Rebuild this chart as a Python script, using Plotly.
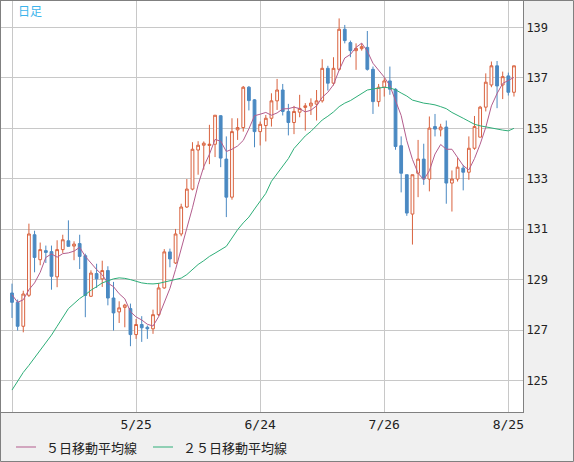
import pandas as pd
import plotly.graph_objects as go

# daily candles, weekdays 2022-04-25 .. 2022-08-26
dates = pd.bdate_range("2022-04-25", "2022-08-26").strftime("%Y-%m-%d").tolist()

open_ = [128.47, 128.10, 127.15, 128.38, 130.78, 129.79, 130.15, 130.11, 129.11, 130.19,
         130.54, 130.33, 130.43, 129.95, 128.34, 129.24, 129.03, 129.36, 128.27, 127.72,
         127.90, 127.85, 126.82, 127.22, 127.11, 127.05, 127.61, 128.67, 130.10, 129.66,
         130.81, 131.88, 132.59, 134.14, 134.33, 134.32, 134.37, 135.50, 133.78, 132.27,
         134.94, 135.03, 136.63, 136.13, 134.87, 135.11, 135.40, 136.09, 136.52, 135.67,
         135.23, 135.64, 135.83, 135.89, 135.96, 136.09, 137.38, 136.79, 137.34, 138.93,
         138.40, 138.08, 138.16, 138.21, 137.34, 136.06, 136.63, 136.88, 136.55, 134.31,
         133.16, 131.60, 133.22, 133.78, 132.99, 135.07, 134.94, 135.05, 132.83, 132.99,
         133.42, 133.26, 134.21, 134.65, 135.84, 136.72, 137.48, 136.72, 137.08, 136.43]

high = [128.84, 128.21, 128.56, 131.22, 130.94, 130.47, 130.35, 130.35, 130.56, 130.78,
        131.35, 130.52, 130.78, 130.03, 129.37, 129.63, 129.75, 129.53, 128.91, 128.14,
        128.04, 128.05, 127.44, 127.55, 127.18, 127.81, 128.87, 130.21, 130.23, 131.01,
        132.01, 132.99, 134.45, 134.49, 134.48, 135.14, 135.52, 135.52, 134.68, 135.40,
        135.40, 136.68, 136.68, 136.16, 135.27, 135.53, 136.39, 136.96, 136.76, 135.97,
        135.89, 136.33, 136.00, 136.19, 136.52, 137.74, 137.48, 137.82, 139.36, 139.10,
        138.48, 138.37, 138.37, 138.86, 137.45, 136.76, 136.99, 137.45, 136.59, 134.68,
        133.16, 133.16, 134.54, 134.39, 135.47, 135.57, 135.18, 135.31, 133.33, 133.82,
        133.55, 134.68, 135.49, 135.89, 137.18, 137.65, 137.67, 137.25, 137.21, 137.48]

low = [127.48, 126.98, 126.91, 128.31, 129.29, 129.57, 129.66, 128.60, 128.70, 130.06,
       130.32, 129.77, 129.42, 127.51, 128.31, 128.67, 128.71, 127.98, 126.98, 127.28,
       127.11, 126.36, 126.65, 126.53, 126.65, 126.85, 127.55, 128.64, 129.49, 129.62,
       130.72, 131.84, 132.54, 133.16, 133.36, 133.58, 133.86, 133.46, 131.48, 132.17,
       134.54, 134.87, 135.71, 134.25, 134.32, 134.48, 135.07, 135.73, 135.51, 134.72,
       134.77, 135.44, 134.91, 135.53, 135.31, 136.02, 136.50, 136.70, 137.29, 138.37,
       137.82, 137.32, 138.08, 137.29, 135.57, 135.86, 136.26, 136.33, 134.15, 132.46,
       131.53, 130.39, 132.27, 132.76, 132.50, 134.68, 134.68, 132.01, 131.70, 132.89,
       132.54, 132.96, 134.15, 134.65, 135.67, 136.63, 135.80, 136.16, 136.30, 136.26]

close = [128.10, 127.15, 128.43, 130.81, 129.88, 130.19, 130.08, 129.13, 130.19, 130.58,
         130.32, 130.41, 129.92, 128.37, 129.26, 129.03, 129.36, 128.27, 127.68, 127.88,
         127.99, 126.82, 127.22, 127.09, 127.05, 127.61, 128.67, 130.10, 129.82, 130.81,
         131.88, 132.59, 134.17, 134.33, 134.41, 134.37, 135.52, 133.82, 132.27, 134.87,
         135.03, 136.63, 136.10, 134.87, 135.16, 135.40, 136.09, 136.52, 135.67, 135.23,
         135.67, 135.79, 135.89, 136.00, 136.09, 137.38, 136.79, 137.38, 138.93, 138.48,
         138.08, 138.17, 138.24, 137.34, 136.06, 136.63, 136.88, 136.55, 134.28, 133.22,
         131.64, 133.16, 133.78, 132.99, 135.01, 134.97, 135.05, 132.83, 132.99, 133.46,
         133.26, 134.21, 135.07, 135.84, 136.83, 137.48, 136.68, 137.05, 136.43, 137.48]

ma5 = [128.40, 128.10, 128.20, 128.60, 128.87, 129.29, 129.88, 130.02, 129.89, 130.03,
       130.06, 130.13, 130.28, 129.92, 129.66, 129.40, 129.19, 128.86, 128.72, 128.44,
       128.24, 127.73, 127.52, 127.40, 127.23, 127.16, 127.53, 128.10, 128.65, 129.40,
       130.26, 131.04, 131.85, 132.76, 133.48, 133.97, 134.56, 134.49, 134.08, 134.17,
       134.30, 134.52, 134.98, 135.50, 135.56, 135.63, 135.52, 135.61, 135.77, 135.78,
       135.84, 135.78, 135.65, 135.72, 135.89, 136.23, 136.43, 136.73, 137.31, 137.79,
       137.93, 138.21, 138.38, 138.06, 137.58, 137.29, 137.03, 136.69, 136.08, 135.51,
       134.51, 133.77, 133.22, 132.96, 133.32, 133.98, 134.36, 134.17, 134.17, 133.86,
       133.52, 133.35, 133.80, 134.37, 135.04, 135.89, 136.38, 136.78, 136.89, 137.02]

ma25 = [124.62, 124.97, 125.32, 125.60, 125.90, 126.20, 126.50, 126.80, 127.15, 127.50,
        127.85, 128.05, 128.25, 128.40, 128.58, 128.72, 128.87, 128.95, 129.03, 129.07,
        129.05, 129.00, 128.93, 128.87, 128.84, 128.83, 128.85, 128.90, 128.94, 129.00,
        129.06, 129.20, 129.42, 129.60, 129.75, 129.92, 130.05, 130.20, 130.32, 130.65,
        130.98, 131.25, 131.48, 131.80, 132.10, 132.42, 132.90, 133.20, 133.50, 133.80,
        134.20, 134.45, 134.70, 134.88, 135.10, 135.33, 135.48, 135.65, 135.86, 136.00,
        136.10, 136.25, 136.40, 136.52, 136.56, 136.59, 136.63, 136.60, 136.53, 136.40,
        136.28, 136.12, 136.05, 136.00, 135.97, 135.93, 135.86, 135.78, 135.63, 135.50,
        135.40, 135.28, 135.16, 135.10, 135.05, 135.00, 134.97, 134.93, 134.90, 135.00]

tick_dates = ["2022-04-25", "2022-05-25", "2022-06-24", "2022-07-26", "2022-08-25"]
tick_text = ["", "5/25", "6/24", "7/26", "8/25"]

UP = "#d9623e"
DOWN = "#4a89c2"
MA5_COLOR = "#b35d8d"
MA25_COLOR = "#2eae78"
JP_FONT = "Noto Sans CJK JP"

fig = go.Figure()
fig.add_trace(go.Candlestick(
    x=dates, open=open_, high=high, low=low, close=close,
    increasing=dict(line=dict(color=UP, width=1), fillcolor="white"),
    decreasing=dict(line=dict(color=DOWN, width=1), fillcolor=DOWN),
    name="日足",
))
fig.add_trace(go.Scatter(x=dates, y=ma5, mode="lines", name="５日移動平均線",
                         line=dict(color=MA5_COLOR, width=1)))
fig.add_trace(go.Scatter(x=dates, y=ma25, mode="lines", name="２５日移動平均線",
                         line=dict(color=MA25_COLOR, width=1)))


def px_x(p):
    # pixel column -> paper x (plot spans 1..523)
    return (p - 1) / 522


def px_y(p):
    # pixel row -> paper y (plot spans 1..412)
    return (412 - p) / 411


shapes = [
    dict(type="rect", xref="paper", yref="paper",
         x0=px_x(0.5), x1=px_x(573.5), y0=px_y(461.5), y1=px_y(0.5),
         line=dict(color="#808080", width=1)),
    dict(type="line", xref="paper", yref="paper",
         x0=px_x(16), x1=px_x(36), y0=px_y(447), y1=px_y(447),
         line=dict(color=MA5_COLOR, width=1)),
    dict(type="line", xref="paper", yref="paper",
         x0=px_x(153), x1=px_x(173), y0=px_y(447), y1=px_y(447),
         line=dict(color=MA25_COLOR, width=1)),
]

annotations = [
    dict(text="日足", xref="paper", yref="paper", x=px_x(16), y=px_y(10.5),
         xanchor="left", yanchor="middle", showarrow=False,
         font=dict(family=JP_FONT, size=12, color="#3cb4ec")),
    dict(text="５日移動平均線", xref="paper", yref="paper", x=px_x(44), y=px_y(447),
         xanchor="left", yanchor="middle", showarrow=False,
         font=dict(family=JP_FONT, size=13, color="#222222")),
    dict(text="２５日移動平均線", xref="paper", yref="paper", x=px_x(181), y=px_y(447),
         xanchor="left", yanchor="middle", showarrow=False,
         font=dict(family=JP_FONT, size=13, color="#222222")),
]

fig.update_layout(
    width=574, height=462,
    margin=dict(l=1, r=51, t=1, b=50),
    paper_bgcolor="#f0f0f0",
    plot_bgcolor="white",
    showlegend=False,
    shapes=shapes,
    annotations=annotations,
)
fig.update_xaxes(
    type="category", range=[-1.95, 90.6],
    tickvals=tick_dates, ticktext=tick_text,
    showgrid=True, gridcolor="#c8c8c8", gridwidth=1,
    showline=True, linecolor="#808080", linewidth=1, mirror=True,
    ticks="", tickfont=dict(family="DejaVu Sans Mono", size=13, color="#222222"),
    rangeslider=dict(visible=False),
)
fig.update_yaxes(
    side="right", range=[123.75, 140.05], tick0=125, dtick=2,
    showgrid=True, gridcolor="#c8c8c8", gridwidth=1,
    showline=True, linecolor="#808080", linewidth=1, mirror=True,
    ticks="", tickfont=dict(family="DejaVu Sans Mono", size=12, color="#222222"),
    zeroline=False,
)

# the page body has a default 8px margin; drop it so the chart fills the window
fig.write_html("out.html", config={"displayModeBar": False},
               post_script="document.body.style.margin = '0';")
